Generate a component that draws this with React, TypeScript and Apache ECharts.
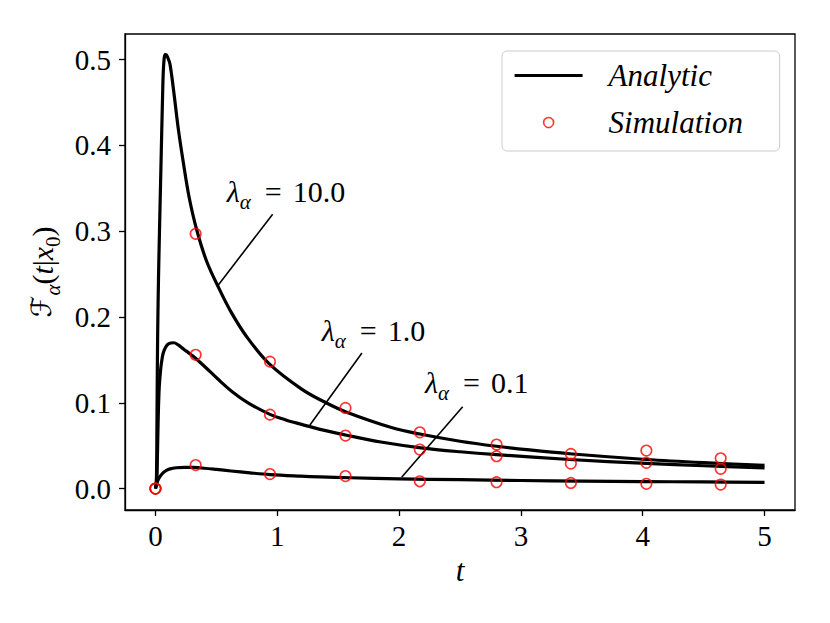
import React, { useEffect, useRef } from "react";
import * as echarts from "echarts";

// Analytic curves
const t10 = [0, 0.004, 0.008, 0.012, 0.016, 0.02, 0.025, 0.03, 0.037, 0.045, 0.051, 0.058, 0.064, 0.072, 0.08, 0.086, 0.10, 0.119, 0.15, 0.187, 0.23, 0.276, 0.338, 0.42, 0.516, 0.62, 0.749, 0.93, 1.2, 1.4, 1.57, 1.93, 2.17, 2.5, 2.8, 3.07, 3.4, 4.03, 4.5, 5.0];
const f10 = [0, 0, 0.012, 0.07, 0.15, 0.2, 0.245, 0.28, 0.325, 0.375, 0.413, 0.455, 0.485, 0.502, 0.506, 0.506, 0.503, 0.495, 0.463, 0.42, 0.379, 0.34, 0.302, 0.265, 0.235, 0.206, 0.177, 0.146, 0.116, 0.1, 0.089, 0.0715, 0.0636, 0.0552, 0.0493, 0.045, 0.0406, 0.0339, 0.0302, 0.0271];

const t1 = [0, 0.005, 0.01, 0.015, 0.02, 0.025, 0.031, 0.037, 0.045, 0.055, 0.064, 0.08, 0.1, 0.125, 0.15, 0.19, 0.23, 0.27, 0.31, 0.41, 0.51, 0.63, 0.76, 0.94, 1.07, 1.2, 1.35, 1.56, 1.85, 2.18, 2.5, 2.8, 3.4, 4.03, 4.5, 5.0];
const f1 = [0, 0, 0.0065, 0.03, 0.065, 0.095, 0.118, 0.13, 0.142, 0.152, 0.158, 0.164, 0.168, 0.1697, 0.17, 0.1672, 0.1627, 0.1585, 0.1542, 0.1415, 0.128, 0.113, 0.1, 0.0865, 0.08, 0.0748, 0.069, 0.0625, 0.0543, 0.0475, 0.0429, 0.0395, 0.0339, 0.0293, 0.0266, 0.024];

const t01 = [0, 0.005, 0.01, 0.02, 0.037, 0.064, 0.09, 0.12, 0.17, 0.24, 0.31, 0.4, 0.5, 0.62, 0.776, 0.94, 1.19, 1.35, 1.6, 2.0, 2.5, 3.0, 3.5, 4.0, 4.5, 5.0];
const f01 = [0, 0.003, 0.0055, 0.0095, 0.014, 0.0185, 0.0212, 0.023, 0.0243, 0.0248, 0.0246, 0.0237, 0.0223, 0.0205, 0.0183, 0.0163, 0.0145, 0.0136, 0.0126, 0.0114, 0.0103, 0.0094, 0.0087, 0.0082, 0.0077, 0.0073];

// Simulation points
const simT = [0, 0.33, 0.94, 1.56, 2.17, 2.8, 3.41, 4.03, 4.64];
const sim10 = [0, 0.297, 0.148, 0.094, 0.0656, 0.0513, 0.0404, 0.0443, 0.0353];
const sim1 = [0, 0.156, 0.0862, 0.0618, 0.0455, 0.0377, 0.0291, 0.03, 0.023];
const sim01 = [0, 0.0274, 0.0169, 0.0146, 0.0085, 0.0074, 0.0066, 0.0055, 0.0047];

// Annotations: label text, text anchor (left, middle) and connector line ends
const annLabels = ["10.0", "1.0", "0.1"];
const annText = [[0.585, 0.3446], [1.365, 0.1814], [2.213, 0.1208]];
const annLines = [
  [[0.516, 0.2374], [0.962, 0.3198]],
  [[1.268, 0.0741], [1.695, 0.1581]],
  [[2.021, 0.0132], [2.522, 0.0955]],
];

const xTicks = [0, 1, 2, 3, 4, 5];
const yTicks = [0, 0.1, 0.2, 0.3, 0.4, 0.5];

const SERIF = "'Liberation Serif', 'DejaVu Serif', serif";

export default function App() {
  const ref = useRef<HTMLDivElement>(null);
  useEffect(() => {
    document.body.style.margin = "0";
    const chart = echarts.init(ref.current!, null, { renderer: "svg" });
    const pairs = (ts: number[], fs: number[]) => ts.map((t, i) => [t, fs[i]]);
    const curve = (ts: number[], fs: number[]) => ({
      type: "line",
      name: "Analytic",
      data: pairs(ts, fs),
      symbol: "none",
      smooth: 0.35,
      silent: true,
      lineStyle: { color: "#000", width: 3.2, join: "round" },
      itemStyle: { color: "#000" },
      z: 2,
    });
    const simAll = [
      ...pairs(simT, sim10),
      ...pairs(simT, sim1),
      ...pairs(simT, sim01),
    ];
    const annRich = {
      l: { fontFamily: SERIF, fontStyle: "italic", fontSize: 30, lineHeight: 34, verticalAlign: "top", color: "#000" },
      s: { fontFamily: SERIF, fontStyle: "italic", fontSize: 21, lineHeight: 20, padding: [15, 0, 0, 0], verticalAlign: "top", color: "#000" },
      e: { fontFamily: SERIF, fontSize: 30, lineHeight: 34, verticalAlign: "top", padding: [0, 11, 0, 14], color: "#000" },
      r: { fontFamily: SERIF, fontSize: 30, lineHeight: 34, verticalAlign: "top", color: "#000" },
    };
    const series: any[] = [
      curve(t10, f10),
      curve(t1, f1),
      curve(t01, f01),
      ...annLines.map((seg, i) => ({
        type: "line",
        name: "ann" + i,
        data: seg,
        symbol: "none",
        silent: true,
        lineStyle: { color: "#000", width: 1.6 },
        z: 3,
      })),
      {
        type: "scatter",
        name: "Simulation",
        data: simAll,
        symbol: "circle",
        symbolSize: 10.5,
        silent: true,
        itemStyle: { color: "rgba(0,0,0,0)", borderColor: "#ff0000", borderWidth: 1.6 },
        z: 4,
      },
      {
        type: "scatter",
        name: "labels",
        data: annText.map((p, i) => ({ value: p, label: { formatter: "{l|λ}{s|α}{e|=}{r|" + annLabels[i] + "}" } })),
        symbolSize: 0.001,
        silent: true,
        itemStyle: { color: "#000" },
        label: { show: true, position: "right", distance: 0, color: "#000", opacity: 1, textBorderWidth: 0, rich: annRich },
        z: 5,
      },
    ];
    const axisLine = { show: true, onZero: false, lineStyle: { color: "#000", width: 1.3 } };
    chart.setOption({
      animation: false,
      grid: { left: 125, top: 34, right: 35, bottom: 113, show: true, borderColor: "#000", borderWidth: 1.3, backgroundColor: "rgba(0,0,0,0)" },
      legend: {
        data: [
          { name: "Analytic", itemStyle: { color: "rgba(0,0,0,0)", borderWidth: 0, opacity: 0 }, lineStyle: { color: "#000", width: 3.2 } },
          { name: "Simulation", icon: "circle", itemStyle: { color: "rgba(0,0,0,0)", borderColor: "#ff0000", borderWidth: 1.6 } },
        ],
        orient: "vertical",
        left: 502,
        top: 51,
        itemWidth: 68,
        itemHeight: 10,
        itemGap: 14,
        padding: [8, 13, 12, 11],
        backgroundColor: "rgba(255,255,255,0.8)",
        borderColor: "#cccccc",
        borderWidth: 1,
        borderRadius: 5,
        selectedMode: false,
        textStyle: { fontFamily: SERIF, fontStyle: "italic", fontSize: 31, color: "#000", padding: [0, 0, 0, 21], lineHeight: 33, width: 158 },
      },
      xAxis: {
        type: "value",
        min: -0.25,
        max: 5.25,
        splitLine: { show: false },
        axisLine,
        axisTick: { show: true, length: 6, customValues: xTicks, lineStyle: { color: "#000", width: 1.3 } },
        axisLabel: { customValues: xTicks, fontFamily: SERIF, fontSize: 29, color: "#000", margin: 11 },
        name: "t",
        nameLocation: "middle",
        nameGap: 45,
        nameTextStyle: { fontFamily: SERIF, fontStyle: "italic", fontSize: 31, color: "#000" },
      },
      yAxis: {
        type: "value",
        min: -0.025,
        max: 0.53,
        splitLine: { show: false },
        axisLine,
        axisTick: { show: true, length: 6, customValues: yTicks, lineStyle: { color: "#000", width: 1.3 } },
        axisLabel: { customValues: yTicks, fontFamily: SERIF, fontSize: 29, color: "#000", margin: 14, formatter: (v: number) => v.toFixed(1) },
        name: "{f|ℱ}{s|α}{p|(}{i|t}{p||}{i|x}{z|0}{p|)}",
        nameLocation: "middle",
        nameGap: 62,
        nameRotate: 90,
        nameTextStyle: {
          color: "#000",
          rich: {
            f: { fontFamily: "'DejaVu Serif', 'DejaVu Sans', serif", fontStyle: "italic", fontSize: 28, lineHeight: 34, verticalAlign: "top" },
            s: { fontFamily: SERIF, fontStyle: "italic", fontSize: 21, lineHeight: 20, padding: [15, 0, 0, 0], verticalAlign: "top" },
            z: { fontFamily: SERIF, fontSize: 21, lineHeight: 20, padding: [15, 0, 0, 0], verticalAlign: "top" },
            p: { fontFamily: SERIF, fontSize: 30, lineHeight: 34, verticalAlign: "top" },
            i: { fontFamily: SERIF, fontStyle: "italic", fontSize: 30, lineHeight: 34, verticalAlign: "top" },
          },
        },
      },
      series,
    });
    return () => chart.dispose();
  }, []);
  return <div ref={ref} style={{ width: 830, height: 623 }} />;
}
